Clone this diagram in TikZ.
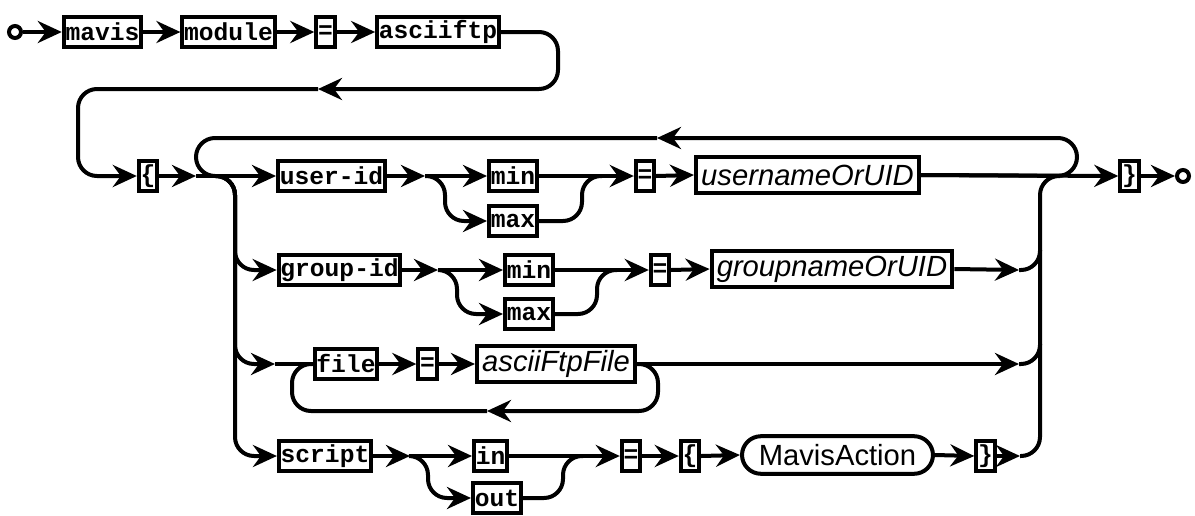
\documentclass[tikz,border=0pt]{standalone}
\usepackage{fontspec}
\setmainfont{Liberation Sans}
\setmonofont{Liberation Mono}
\usetikzlibrary{arrows.meta}
\tikzset{
  rail/.style={line width=2pt, rounded corners=9.5pt},
  arr/.style={rail, -{Stealth[length=12pt,width=11pt,inset=4pt]}},
  kw/.style={draw, line width=2pt, font=\ttfamily\bfseries\fontsize{12.3}{14}\selectfont,
    inner xsep=0.9pt, inner ysep=0pt, minimum height=15.3pt},
  nonterm/.style={draw, line width=2pt, font=\itshape\fontsize{14.6}{16}\selectfont,
    inner xsep=2.6pt, inner ysep=0pt, minimum height=18.2pt},
  refbox/.style={draw, line width=2pt, rounded corners=9.5pt, font=\fontsize{14.6}{16}\selectfont,
    inner xsep=8.4pt, inner ysep=0pt, minimum height=18.8pt},
  endpt/.style={circle, draw, line width=2pt, minimum size=6pt, inner sep=0pt},
}
\begin{document}
\begin{tikzpicture}[x=0.5pt, y=-0.5pt]
      \useasboundingbox (0,0) rectangle (1195,515);

      \node[endpt, at={(15,32)}] (start) {};
      \node[kw, at={(102.5,32)}] (mavis) {mavis};
      \node[kw, at={(228.5,32)}] (module) {module};
      \node[kw, at={(325.5,32)}] (eqmod) {=};
      \node[kw, at={(438,32)}] (asciiftp) {asciiftp};

      \node[kw, at={(148,176)}] (lbrace) {\{};
      \node[kw, at={(331.5,176)}] (userid) {user-id};
      \node[kw, anchor=west, at={(487,176)}] (minuser) {min};
      \node[kw, anchor=west, at={(487,221)}] (maxuser) {max};
      \node[kw, at={(645,176)}] (equser) {=};
      \node[nonterm, at={(807.5,175)}] (username) {usernameOrUID};
      \node[kw, at={(1129.5,176)}] (rbrace) {\}};
      \node[endpt, at={(1183,176)}] (finish) {};

      \node[kw, at={(339.5,270)}] (groupid) {group-id};
      \node[kw, anchor=west, at={(503,270)}] (mingroup) {min};
      \node[kw, anchor=west, at={(503,314)}] (maxgroup) {max};
      \node[kw, at={(660,270)}] (eqgroup) {=};
      \node[nonterm, at={(832,269)}] (groupname) {groupnameOrUID};

      \node[kw, at={(346,364)}] (file) {file};
      \node[kw, at={(427.5,364)}] (eqfile) {=};
      \node[nonterm, at={(556,364)}] (ftpfile) {asciiFtpFile};

      \node[kw, at={(325,456)}] (script) {script};
      \node[kw, anchor=west, at={(472,456)}] (inkw) {in};
      \node[kw, anchor=west, at={(471,498)}] (outkw) {out};
      \node[kw, at={(631,456)}] (eqscript) {=};
      \node[kw, at={(690,456)}] (lbraceact) {\{};
      \node[refbox, at={(837.5,455)}] (action) {MavisAction};
      \node[kw, at={(985.5,456)}] (rbraceact) {\}};

      \coordinate (backtip) at (318,89);
      \coordinate (loopin) at (196,176);
      \coordinate (split) at (216,176);
      \coordinate (looptip) at (657,138);
      \coordinate (splituser) at (425,176);
      \coordinate (splitgroup) at (438,270);
      \coordinate (splitscript) at (410,456);
      \coordinate (fileentry) at (275,364);
      \coordinate (filetip) at (487,411);
      \coordinate (endgroup) at (1019,270);
      \coordinate (endfile) at (1019,364);
      \coordinate (endscript) at (1020,456);

      \draw[arr] (start.east) -- (mavis.west);
      \draw[arr] (mavis.east) -- (module.west);
      \draw[arr] (module.east) -- (eqmod.west);
      \draw[arr] (eqmod.east) -- (asciiftp.west);
      \draw[arr] (asciiftp.east) -- (558,32) -- (558,89) -- (backtip);
      \draw[arr] (backtip) -- (78,89) -- (78,176) -- (lbrace.west);
      \draw[arr] (lbrace.east) -- (loopin);

      \draw[arr] (username.east) -- (1077,176) -- (1077,138) -- (looptip);
      \draw[rail] (looptip) -- (196,138) -- (196,176) -- (split);

      \draw[arr] (split) -- (235,176) -- (235,270) -- (groupid.west);
      \draw[arr] (split) -- (235,176) -- (235,364) -- (fileentry);
      \draw[arr] (split) -- (235,176) -- (235,456) -- (script.west);

      \draw[arr] (loopin) -- (userid.west);
      \draw[arr] (userid.east) -- (splituser);
      \draw[arr] (splituser) -- (minuser.west);
      \draw[arr] (splituser) -- (445,176) -- (445,221) -- (maxuser.west);
      \draw[arr] (minuser.east) -- (equser.west);
      \draw[rail] (maxuser.east) -- (582,221) -- (582,176) -- (602,176);
      \draw[arr] (equser.east) -- (username.west);
      \draw[arr] (username.east) -- (rbrace.west);
      \draw[arr] (rbrace.east) -- (finish.west);

      \draw[arr] (groupid.east) -- (splitgroup);
      \draw[arr] (splitgroup) -- (mingroup.west);
      \draw[arr] (splitgroup) -- (457,270) -- (457,314) -- (maxgroup.west);
      \draw[arr] (mingroup.east) -- (eqgroup.west);
      \draw[rail] (maxgroup.east) -- (597,314) -- (597,270) -- (617,270);
      \draw[arr] (eqgroup.east) -- (groupname.west);
      \draw[arr] (groupname.east) -- (endgroup);
      \draw[rail] (endgroup) -- (1040,270) -- (1040,250);

      \draw[rail] (fileentry) -- (file.west);
      \draw[arr] (file.east) -- (eqfile.west);
      \draw[arr] (eqfile.east) -- (ftpfile.west);
      \draw[arr] (ftpfile.east) -- (658,364) -- (658,411) -- (filetip);
      \draw[rail] (filetip) -- (292,411) -- (292,364) -- (file.west);
      \draw[arr] (ftpfile.east) -- (endfile);
      \draw[rail] (endfile) -- (1040,364) -- (1040,344);

      \draw[arr] (script.east) -- (splitscript);
      \draw[arr] (splitscript) -- (inkw.west);
      \draw[arr] (splitscript) -- (428,456) -- (428,498) -- (outkw.west);
      \draw[arr] (inkw.east) -- (eqscript.west);
      \draw[rail] (outkw.east) -- (563,498) -- (563,456) -- (583,456);
      \draw[arr] (eqscript.east) -- (lbraceact.west);
      \draw[arr] (lbraceact.east) -- (action.west);
      \draw[arr] (action.east) -- (rbraceact.west);
      \draw[arr] (rbraceact.east) -- (endscript);
      \draw[rail] (endscript) -- (1040,456) -- (1040,176) -- (1060,176);
    \end{tikzpicture}
\end{document}
